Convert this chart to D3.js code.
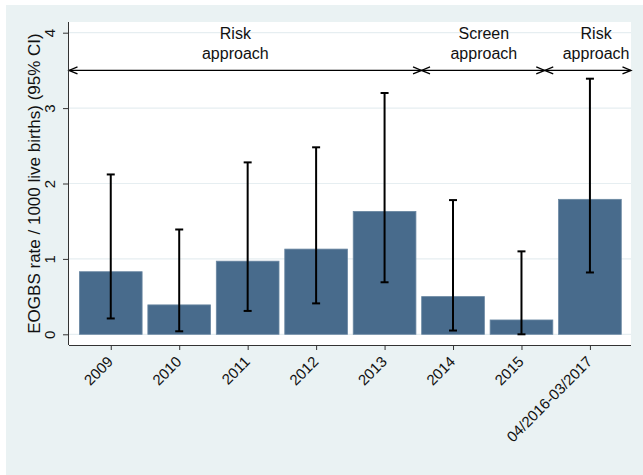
<!DOCTYPE html>
<html>
<head>
<meta charset="utf-8">
<script src="https://cdn.jsdelivr.net/npm/d3@7"></script>
<style>
  body { margin: 0; background: #fff; }
  svg { display: block; font-family: "Liberation Sans", Arial, sans-serif; }
</style>
</head>
<body>
<script>
// Data

const categories = ["2009", "2010", "2011", "2012", "2013", "2014", "2015", "04/2016-03/2017"]
const rates = [0.83, 0.39, 0.97, 1.13, 1.63, 0.5, 0.19, 1.79]
const ciLow = [0.21, 0.04, 0.31, 0.41, 0.69, 0.05, 0.0, 0.82]
const ciHigh = [2.12, 1.39, 2.28, 2.48, 3.2, 1.78, 1.1, 3.39]
const yTicks = [0, 1, 2, 3, 4]

// Periods shown with arrows above the bars (x in category index units)
const periodNames = [["Risk", "approach"], ["Screen", "approach"], ["Risk", "approach"]]
const periodStart = [-0.61, 4.54, 6.34]
const periodEnd = [4.54, 6.34, 7.6]
const periodLabelAt = [1.82, 5.45, 7.09]
const arrowLevel = 3.5

// Dimensions
const width = 643
const height = 475
const margin = { top: 22, right: 12, bottom: 130, left: 69 }

const svg = d3
  .select("body")
  .append("svg")
  .attr("width", width)
  .attr("height", height)

// Graph region background
svg
  .append("rect")
  .attr("x", 6)
  .attr("y", 5)
  .attr("width", width - 6)
  .attr("height", height - 5)
  .style("fill", "#eaf2f3")

const plotLeft = margin.left
const plotRight = width - margin.right
const plotTop = margin.top
const plotBottom = height - margin.bottom

// Plot region
svg
  .append("rect")
  .attr("x", plotLeft)
  .attr("y", plotTop)
  .attr("width", plotRight - plotLeft)
  .attr("height", plotBottom - plotTop)
  .style("fill", "#fff")

// Scales
const x = d3.scaleLinear().domain([-0.61, 7.6]).range([plotLeft, plotRight])
const y = d3.scaleLinear().domain([0, 4]).range([334.3, 32.7])

const barHalf = 0.458

// Grid lines
svg
  .append("g")
  .selectAll("line")
  .data(yTicks)
  .join("line")
  .attr("x1", plotLeft)
  .attr("x2", plotRight)
  .attr("y1", d => y(d))
  .attr("y2", d => y(d))
  .style("stroke", "#e6eef1")
  .style("stroke-width", 1.2)

// Bars
svg
  .append("g")
  .selectAll("rect")
  .data(rates)
  .join("rect")
  .attr("x", (d, i) => x(i - barHalf))
  .attr("y", d => y(d))
  .attr("width", (d, i) => x(i + barHalf) - x(i - barHalf))
  .attr("height", d => y(0) - y(d))
  .style("fill", "#486b8c")
  .style("stroke", "#6a87a2")
  .style("stroke-width", 0.8)

// Error bars
const ci = svg.append("g").style("stroke", "#000").style("stroke-width", 2)

ci.selectAll(".stem")
  .data(categories)
  .join("line")
  .attr("x1", (d, i) => x(i))
  .attr("x2", (d, i) => x(i))
  .attr("y1", (d, i) => y(ciLow[i]))
  .attr("y2", (d, i) => y(ciHigh[i]))

const capW = 4
ci.selectAll(".capHi")
  .data(categories)
  .join("line")
  .attr("x1", (d, i) => x(i) - capW)
  .attr("x2", (d, i) => x(i) + capW)
  .attr("y1", (d, i) => y(ciHigh[i]))
  .attr("y2", (d, i) => y(ciHigh[i]))

ci.selectAll(".capLo")
  .data(categories)
  .join("line")
  .attr("x1", (d, i) => x(i) - capW)
  .attr("x2", (d, i) => x(i) + capW)
  .attr("y1", (d, i) => y(ciLow[i]))
  .attr("y2", (d, i) => y(ciLow[i]))

// Period arrows
const arrows = svg.append("g").style("stroke", "#000").style("stroke-width", 1.3).style("fill", "none")
const ay = y(arrowLevel)
const headL = 8.5
const headH = 3.5

periodStart.forEach((s, i) => {
  const x1 = x(s)
  const x2 = x(periodEnd[i])
  arrows.append("line").attr("x1", x1).attr("x2", x2).attr("y1", ay).attr("y2", ay)
  arrows
    .append("path")
    .attr("d", `M${x1 + headL},${ay - headH}L${x1},${ay}L${x1 + headL},${ay + headH}`)
  arrows
    .append("path")
    .attr("d", `M${x2 - headL},${ay - headH}L${x2},${ay}L${x2 - headL},${ay + headH}`)
})

// Period labels
periodNames.forEach((lines, i) => {
  const t = svg
    .append("text")
    .attr("x", x(periodLabelAt[i]))
    .attr("y", ay - 31)
    .attr("text-anchor", "middle")
    .style("font-size", "16px")
    .style("fill", "#111")
  lines.forEach((line, j) => {
    t.append("tspan")
      .attr("x", x(periodLabelAt[i]))
      .attr("dy", j === 0 ? 0 : 20)
      .text(line)
  })
})

// X axis
const axisX = svg
  .append("g")
  .attr("transform", `translate(0, ${plotBottom})`)
  .call(
    d3
      .axisBottom(x)
      .tickValues(d3.range(categories.length))
      .tickFormat(i => categories[i])
      .tickSize(5)
      .tickSizeOuter(0)
  )

axisX.select(".domain").attr("d", `M${plotLeft},0.5H${plotRight}`).style("stroke", "#333")
axisX.selectAll(".tick line").style("stroke", "#333")
axisX
  .selectAll("text")
  .attr("y", 0)
  .attr("dy", "0.35em")
  .attr("transform", "translate(-1, 14) rotate(-45)")
  .style("text-anchor", "end")
  .style("font-family", "'Liberation Sans', Arial, sans-serif")
  .style("font-size", "15px")
  .style("fill", "#111")

// Y axis
const axisY = svg
  .append("g")
  .attr("transform", `translate(${plotLeft}, 0)`)
  .call(d3.axisLeft(y).tickValues(yTicks).tickSize(6).tickFormat(d3.format("d")))

axisY.select(".domain").attr("d", `M-0.5,${plotTop}V${plotBottom}`).style("stroke", "#333")
axisY.selectAll(".tick line").style("stroke", "#333")
axisY
  .selectAll("text")
  .attr("x", 0)
  .attr("y", -14)
  .attr("dy", 0)
  .attr("transform", "rotate(-90)")
  .style("text-anchor", "middle")
  .style("font-family", "'Liberation Sans', Arial, sans-serif")
  .style("font-size", "15px")
  .style("fill", "#111")

// Y axis title
svg
  .append("text")
  .attr("transform", `translate(40, ${(plotTop + plotBottom) / 2}) rotate(-90)`)
  .attr("text-anchor", "middle")
  .style("font-size", "17px")
  .style("fill", "#111")
  .text("EOGBS rate / 1000 live births) (95% CI)")
</script>
</body>
</html>
